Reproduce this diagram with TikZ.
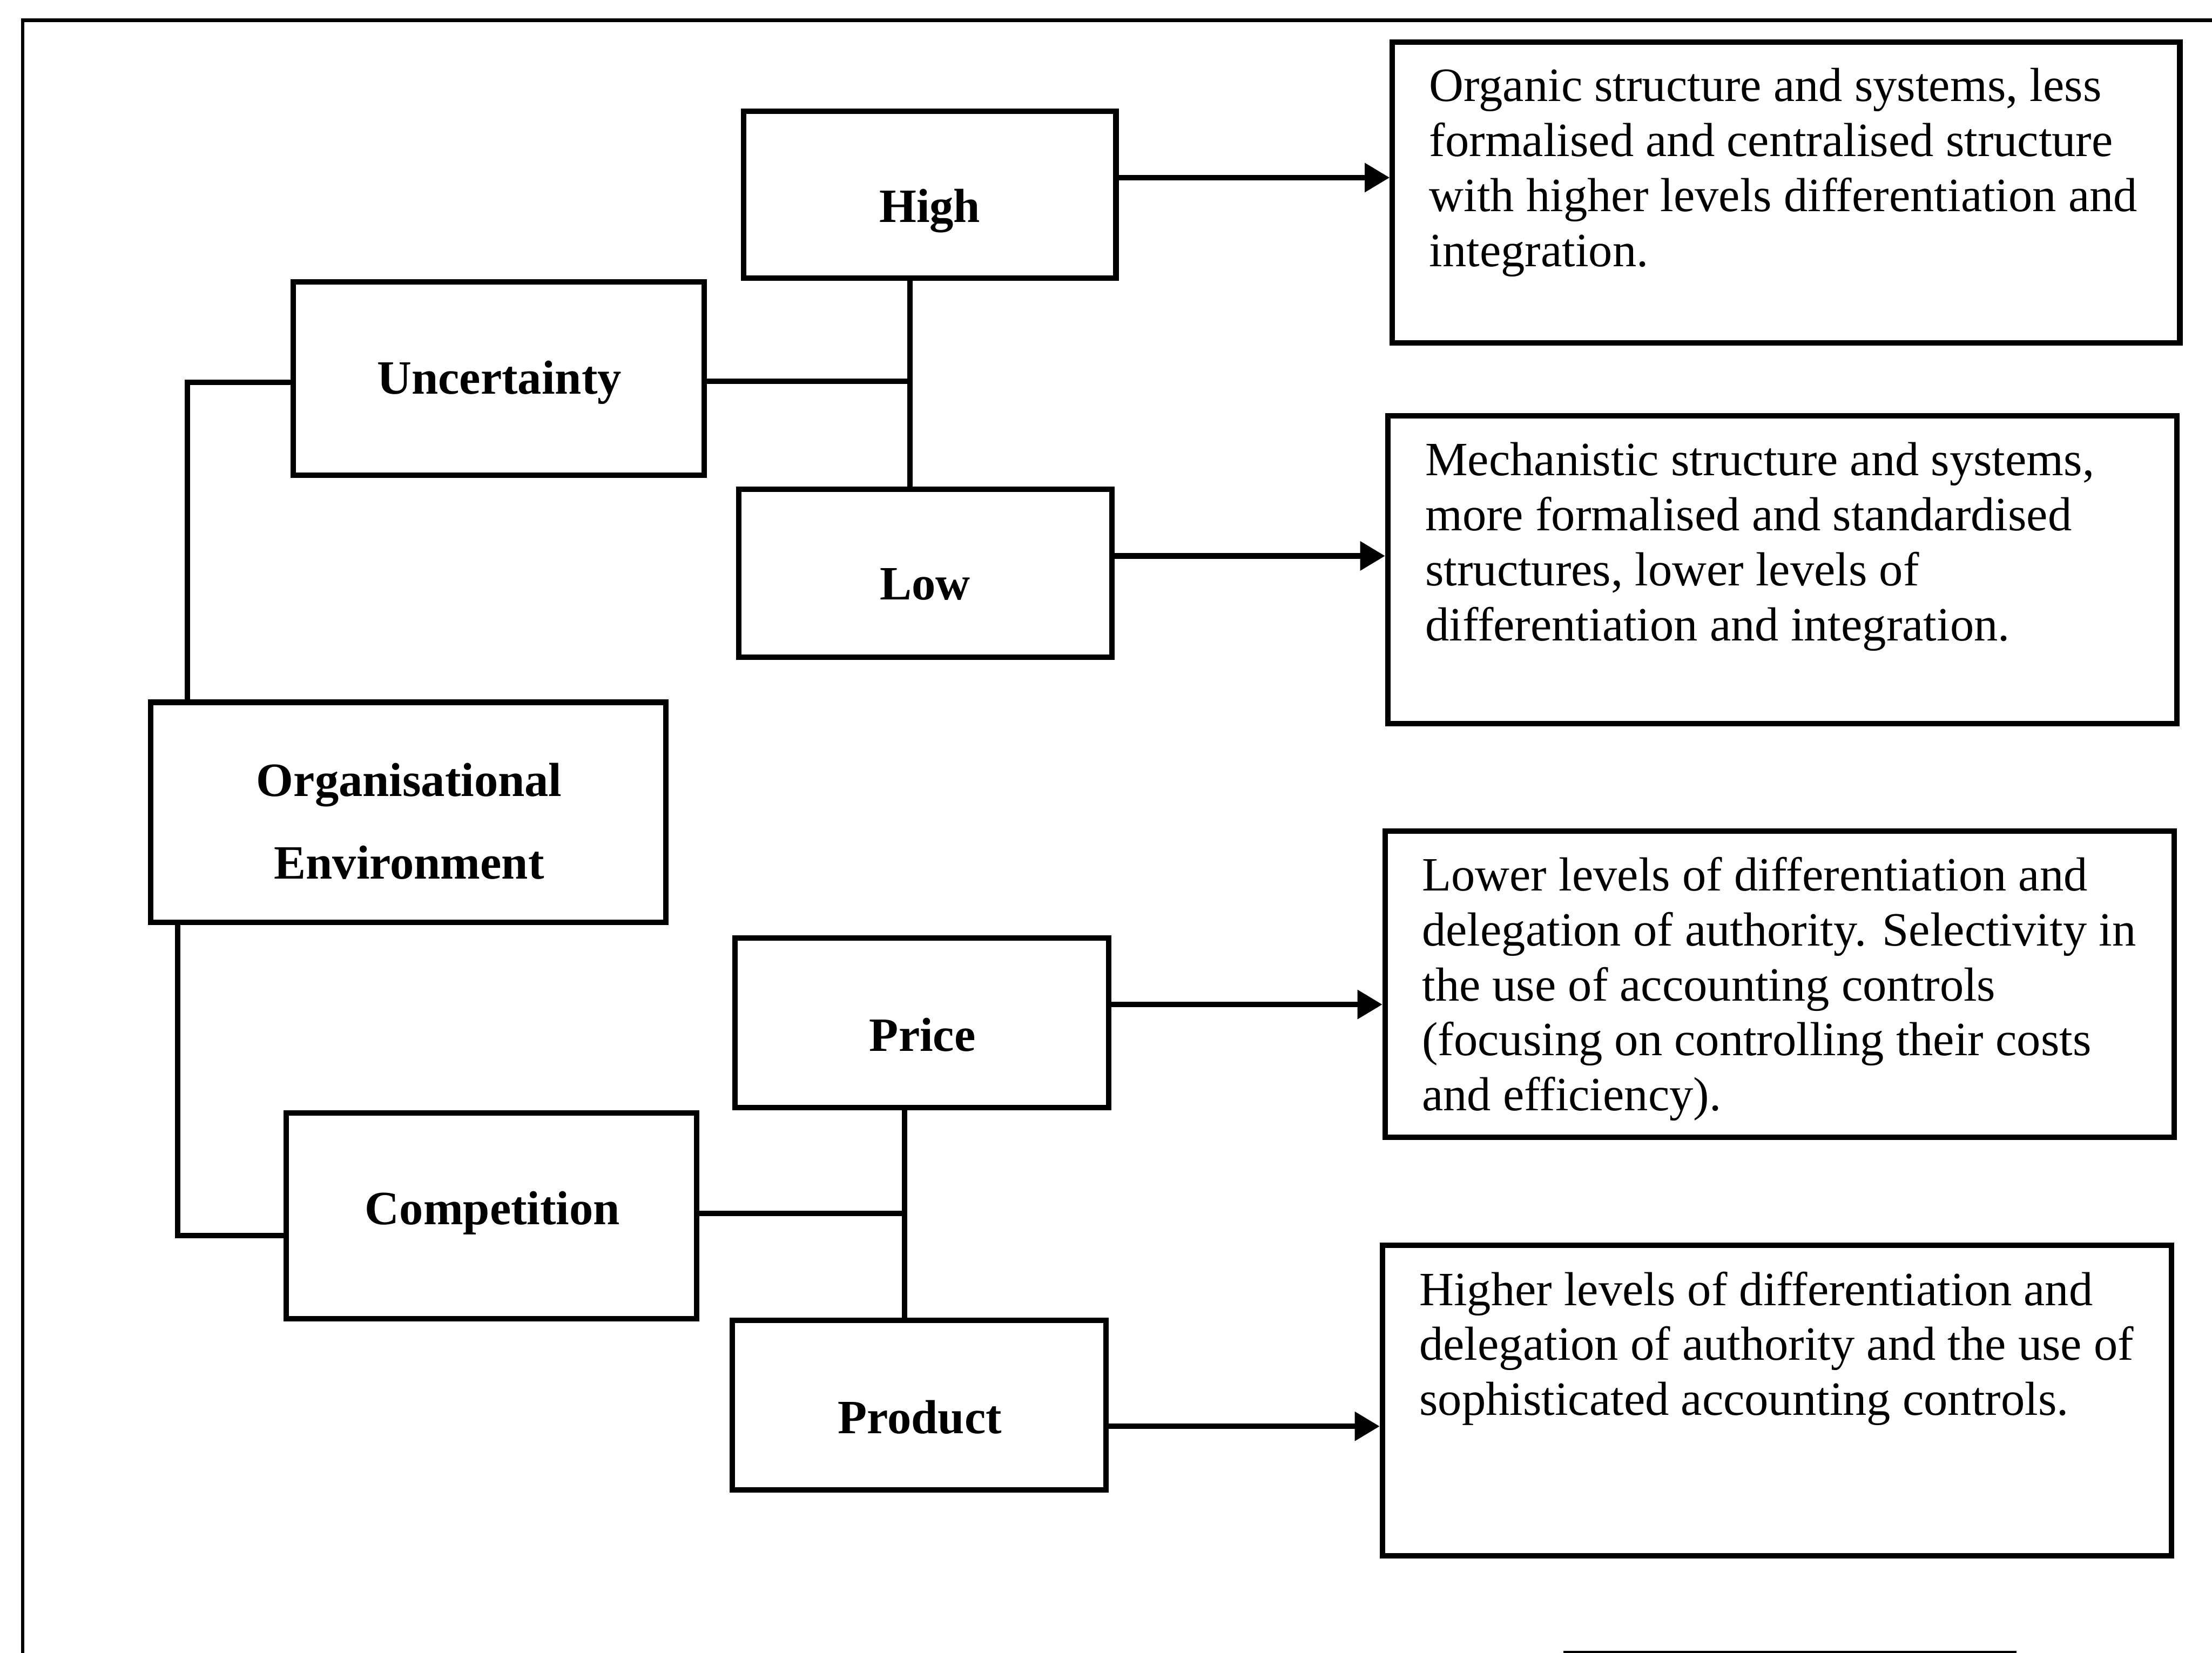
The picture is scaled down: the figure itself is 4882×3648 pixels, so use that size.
\documentclass[tikz,border=0pt]{standalone}
\usepackage{fontspec}
\setmainfont{Liberation Serif}
\usetikzlibrary{fit,arrows.meta}
\begin{document}
\begin{tikzpicture}[x=0.01cm,y=-0.01cm,
  box/.style={draw, line width=0.12cm, inner sep=0pt},
  link/.style={line width=0.12cm},
  arrowlink/.style={line width=0.12cm, -{Triangle[length=0.55cm,width=0.62cm]}},
  lbl/.style={font=\fontsize{30}{34}\selectfont\bfseries, anchor=base, inner sep=0pt},
  desc/.style={font=\fontsize{30}{34.5}\selectfont, align=left, anchor=north west, inner sep=0pt}]
\useasboundingbox (0,0) rectangle (4882,3648);

% surrounding frame, open at right and bottom
\draw[line width=0.08cm] (50,3670) -- (50,45) -- (4900,45);
\draw[line width=0.05cm] (3450,3646) -- (4450,3646);

% left-hand boxes
\node[box, fit={(333,1550) (1470,2036)}] (org) {};
\node[box, fit={(647,622) (1554,1049)}] (unc) {};
\node[box, fit={(632,2456) (1538,2911)}] (comp) {};
\node[box, fit={(1641,246) (2463,614)}] (high) {};
\node[box, fit={(1631,1080) (2454,1451)}] (low) {};
\node[box, fit={(1622,2070) (2447,2444)}] (price) {};
\node[box, fit={(1616,2914) (2441,3288)}] (product) {};

% right-hand outcome boxes
\node[box, fit={(3073,93) (4811,757)}] (r1) {};
\node[box, fit={(3063,918) (4804,1597)}] (r2) {};
\node[box, fit={(3057,1834) (4798,2510)}] (r3) {};
\node[box, fit={(3051,2749) (4792,3434)}] (r4) {};

% box labels
\node[lbl, align=center, anchor=north, font=\fontsize{30}{52}\selectfont\bfseries] (orgT) at (903,1683) {Organisational\\Environment};
\node[lbl] (uncT) at (1102,869) {Uncertainty};
\node[lbl] (compT) at (1087,2703) {Competition};
\node[lbl] (highT) at (2052,490) {High};
\node[lbl] (lowT) at (2042,1324) {Low};
\node[lbl] (priceT) at (2036,2320) {Price};
\node[lbl] (productT) at (2030,3164) {Product};

% outcome texts
\node[desc] (r1T) at (3154,150) {Organic structure and systems, less\\formalised and centralised structure\\with higher levels differentiation and\\integration.};
\node[desc] (r2T) at (3145,976) {Mechanistic structure and systems,\\more formalised and standardised\\structures, lower levels of\\differentiation and integration.};
\node[desc] (r3T) at (3138,1891) {Lower levels of differentiation and\\delegation of authority. Selectivity in\\the use of accounting controls\\(focusing on controlling their costs\\and efficiency).};
\node[desc] (r4T) at (3132,2806) {Higher levels of differentiation and\\delegation of authority and the use of\\sophisticated accounting controls.};

% junction points
\coordinate (spineU) at (414,844);
\coordinate (spineC) at (392,2727);
\coordinate (jU) at (2008,841);
\coordinate (jC) at (1996,2678);
\coordinate (aH) at (0,392);
\coordinate (aL) at (0,1227);
\coordinate (aP) at (0,2217);
\coordinate (aD) at (0,3148);

% tree connectors
\draw[link] (org.north -| spineU) |- (unc.west |- spineU);
\draw[link] (org.south -| spineC) |- (comp.west |- spineC);
\draw[link] (unc.east |- jU) -- (jU);
\draw[link] (high.south -| jU) -- (low.north -| jU);
\draw[link] (comp.east |- jC) -- (jC);
\draw[link] (price.south -| jC) -- (product.north -| jC);

% arrows to outcomes
\draw[arrowlink] (high.east |- aH) -- (r1.west |- aH);
\draw[arrowlink] (low.east |- aL) -- (r2.west |- aL);
\draw[arrowlink] (price.east |- aP) -- (r3.west |- aP);
\draw[arrowlink] (product.east |- aD) -- (r4.west |- aD);
\end{tikzpicture}
\end{document}
